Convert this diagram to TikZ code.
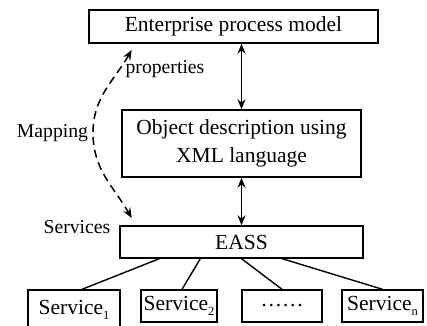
\documentclass[tikz,border=0pt]{standalone}
\usepackage{fontspec}
\setmainfont{Liberation Serif}
\usetikzlibrary{arrows.meta}
% lowered small index for service numbers
\newcommand\subidx[1]{\raisebox{-0.25em}{\fontsize{12.5}{12.5}\selectfont #1}}

\begin{document}
\begin{tikzpicture}[x=1pt,y=1pt,
  box/.style={draw,line width=1.4pt,inner sep=0pt,align=center,
              font=\fontsize{21.5}{28}\selectfont},
  lbl/.style={inner sep=0pt,font=\fontsize{19.7}{24}\selectfont},
  link/.style={line width=1.4pt},
  both/.style={line width=1.4pt,
               {Stealth[length=10pt,width=8pt]}-{Stealth[length=10pt,width=8pt]}},
  map/.style={line width=1.5pt,dash pattern=on 8pt off 5pt,
              {Stealth[length=10pt,width=8pt]}-{Stealth[length=10pt,width=8pt]}}
]
\useasboundingbox (0,0) rectangle (427,-325);

% layer boxes
\node[box,minimum width=289,minimum height=33] (epm) at (233.5,-26.5) {Enterprise process model};
\node[box,minimum width=239,minimum height=67] (obj) at (241.5,-143.5) {Object description using\\XML language};
\node[box,minimum width=243,minimum height=32] (eass) at (241.5,-242) {EASS};

% services
\node[box,minimum width=92,minimum height=40] (s1) at (74,-310) {Service\subidx{1}};
\node[box,minimum width=76,minimum height=32] (s2) at (179,-306) {Service\subidx{2}};
\node[box,minimum width=80,minimum height=32] (sd) at (282,-306) {……};
\node[box,minimum width=81,minimum height=32] (sn) at (382.5,-306) {Service\subidx{n}};

% links between layers
\draw[both] (obj.north) -- (obj.north |- epm.south);
\draw[both] (eass.north) -- (obj.south);

% EASS to services
\draw[link] ([xshift=40]eass.south west) -- ([xshift=8]s1.north);
\draw[link] ([xshift=81]eass.south west) -- ([xshift=3]s2.north);
\draw[link] (eass.south) -- (sd.north);
\draw[link] ([xshift=163]eass.south west) -- (sn.north);

% mapping curve
\coordinate (mtop) at (131.7,-50);
\coordinate (mmid) at (93,-133);
\coordinate (mbot) at (131.7,-218);
\draw[map] (mtop) to[out=240,in=90] (mmid) to[out=-90,in=120] (mbot);

% labels
\node[lbl] (lprop) at (165,-69) {properties};
\node[lbl] (lmap) at (52.5,-133) {Mapping};
\node[lbl] (lserv) at (77,-227) {Services};
\end{tikzpicture}
\end{document}
